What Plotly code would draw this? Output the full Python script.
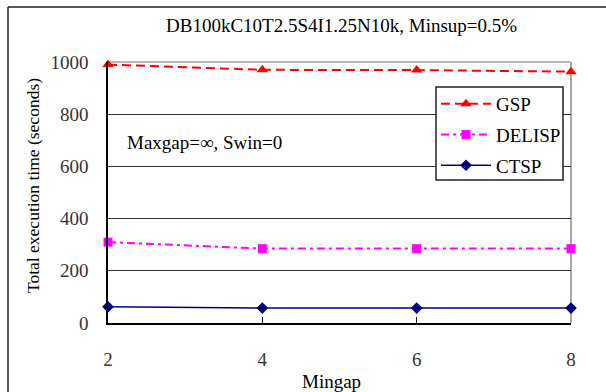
import plotly.graph_objects as go

mingap = [2, 4, 6, 8]
gsp = [990, 970, 969, 963]
delisp = [310, 285, 285, 285]
ctsp = [62, 57, 57, 57]
yticks = [0, 200, 400, 600, 800, 1000]

FONT = "Liberation Serif, Times New Roman, serif"
L, R, T, B = 108, 35, 62, 69
W, H = 606, 392
pw, ph = W - L - R, H - T - B

def px(x):
    return (x - L) / pw

def py(y):
    return (H - B - y) / ph

fig = go.Figure()
fig.add_trace(go.Scatter(x=mingap, y=gsp, name="GSP", mode="lines+markers", legendgroup="a",
                         line=dict(color="#FF0000", width=2, dash="9px,5px"),
                         marker=dict(symbol="triangle-up", size=10, color="#FF0000"),
                         cliponaxis=False))
fig.add_trace(go.Scatter(x=mingap, y=delisp, name="DELISP", mode="lines+markers", legendgroup="b",
                         line=dict(color="#FF00FF", width=2, dash="8px,4px,3px,4px"),
                         marker=dict(symbol="square", size=9, color="#FF00FF"),
                         cliponaxis=False))
fig.add_trace(go.Scatter(x=mingap, y=ctsp, name="CTSP", mode="lines+markers", legendgroup="c",
                         line=dict(color="#000080", width=1.5),
                         marker=dict(symbol="diamond", size=9, color="#000080"),
                         cliponaxis=False))

shapes = [
    dict(type="line", xref="paper", yref="paper", x0=0, x1=1, y0=1, y1=1,
         line=dict(color="#A0A0A0", width=1.5), layer="below"),
    dict(type="line", xref="paper", yref="paper", x0=1, x1=1, y0=0, y1=1,
         line=dict(color="#A8A8A8", width=2), layer="below"),
    dict(type="line", xref="paper", yref="paper", x0=px(8), x1=px(W), y0=py(7), y1=py(7),
         line=dict(color="#202020", width=1.5)),
    dict(type="line", xref="paper", yref="paper", x0=px(8), x1=px(8), y0=py(7), y1=py(H),
         line=dict(color="#202020", width=1.5)),
    # legend box
    dict(type="rect", xref="paper", yref="paper", x0=px(436), x1=px(563), y0=py(180), y1=py(87),
         fillcolor="white", line=dict(color="#202020", width=1.5), layer="above"),
]

annotations = [
    dict(text="DB100kC10T2.5S4I1.25N10k, Minsup=0.5%", xref="paper", yref="paper",
         x=px(341), y=py(26), yanchor="middle", showarrow=False,
         font=dict(family=FONT, size=19, color="#000")),
    dict(text="Maxgap=∞, Swin=0", xref="paper", yref="paper", x=px(125), y=py(142),
         xanchor="left", yanchor="middle", showarrow=False,
         font=dict(family=FONT, size=19, color="#000")),
    dict(text="Mingap", xref="paper", yref="paper", x=px(331), y=py(381), yanchor="middle",
         showarrow=False, font=dict(family=FONT, size=19, color="#000")),
    dict(text="Total execution time (seconds)", xref="paper", yref="paper", x=px(33), y=py(186),
         xanchor="center", yanchor="middle", textangle=-90, showarrow=False,
         font=dict(family=FONT, size=17.5, color="#000")),
]

fig.update_layout(
    width=W, height=H,
    margin=dict(l=L, r=R, t=T, b=B),
    paper_bgcolor="white", plot_bgcolor="white",
    font=dict(family=FONT, size=18, color="#000"),
    showlegend=True,
    legend=dict(x=px(436), y=py(85), xanchor="left", yanchor="top",
                bgcolor="rgba(0,0,0,0)", borderwidth=0,
                font=dict(family=FONT, size=19, color="#000"),
                tracegroupgap=3, itemwidth=50),
    shapes=shapes, annotations=annotations,
    xaxis=dict(range=[2, 8], tickvals=mingap, ticks="inside", ticklen=6, tickcolor="#000",
               showline=True, linecolor="#000", linewidth=1.5, showgrid=False, zeroline=False,
               ticklabelstandoff=18, tickfont=dict(family=FONT, size=19, color="#333")),
    yaxis=dict(range=[0, 1000], tickvals=yticks, ticks="", showline=True, linecolor="#000",
               linewidth=1.5, showgrid=True, gridcolor="#303030", gridwidth=1, zeroline=False,
               ticklabelstandoff=14, tickfont=dict(family=FONT, size=19, color="#333")),
)

fig.write_html("out.html", config={"displayModeBar": False},
               post_script="document.body.style.margin='0';"
                           "document.body.style.overflow='hidden';"
                           "document.documentElement.style.overflow='hidden';")
